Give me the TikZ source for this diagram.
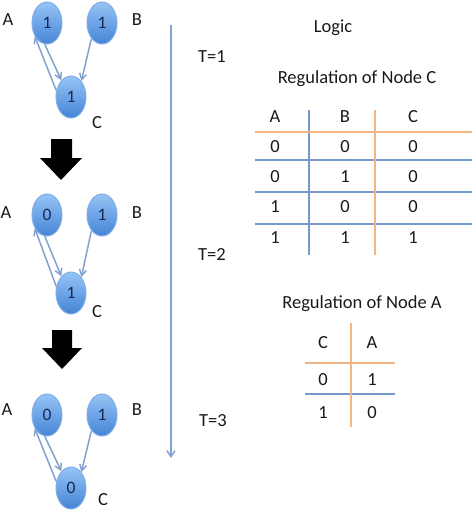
\documentclass[tikz,border=0pt]{standalone}
\usepackage{fontspec}
\setmainfont{Carlito}
\usetikzlibrary{arrows.meta,shapes.geometric}

\definecolor{nodetop}{RGB}{150,196,246}
\definecolor{nodebot}{RGB}{68,132,214}
\definecolor{nodeline}{RGB}{130,175,230}
\definecolor{linkblue}{RGB}{130,162,208}
\definecolor{gridblue}{RGB}{118,152,200}
\definecolor{gridorange}{RGB}{242,182,132}
\definecolor{digit}{RGB}{22,40,80}
\definecolor{ink}{RGB}{25,25,25}

\begin{document}
\begin{tikzpicture}[x=1pt,y=-1pt,
  state/.style={ellipse,draw=nodeline,line width=1pt,top color=nodetop,bottom color=nodebot,
    minimum width=30pt,minimum height=42pt,inner sep=0pt,text=digit,font=\fontsize{17.5}{17.5}\selectfont},
  lbl/.style={inner sep=0pt,text=ink,font=\fontsize{18.5}{20}\selectfont},
  link/.style={draw=linkblue,line width=1.5pt,-{Straight Barb[length=6pt,width=7pt]}},
  timeline/.style={draw=linkblue,line width=1.5pt,-{Straight Barb[length=6pt,width=8pt]}},
  bluerule/.style={draw=gridblue,line width=1.8pt},
  orangerule/.style={draw=gridorange,line width=1.8pt}]
  \useasboundingbox (0,0) rectangle (474,511);

  % T=1
  \node[state] (A1) at (47,23) {1};
  \node[state] (B1) at (102,23) {1};
  \node[state] (C1) at (71,97) {1};
  \node[lbl] (la1) at (8,20) {A};
  \node[lbl] (lb1) at (137,20) {B};
  \node[lbl] (lc1) at (97,123) {C};
  \draw[link] (C1.156) -- (A1.227);
  \draw[link] (A1.264) -- (C1.120);
  \draw[link] (B1.236) -- (C1.57);

  \fill (51,139) -- (72,139) -- (72,158) -- (82,158) -- (61,180) -- (40,158) -- (51,158) -- cycle;

  % T=2
  \node[state] (A2) at (47,215) {0};
  \node[state] (B2) at (102,215) {1};
  \node[state] (C2) at (71,293) {1};
  \node[lbl] (la2) at (6,213) {A};
  \node[lbl] (lb2) at (137,213) {B};
  \node[lbl] (lc2) at (97,312) {C};
  \draw[link] (C2.156) -- (A2.227);
  \draw[link] (A2.264) -- (C2.120);
  \draw[link] (B2.236) -- (C2.57);

  \fill (52,330) -- (72,330) -- (72,348) -- (82,348) -- (62,369) -- (42,348) -- (52,348) -- cycle;

  % T=3
  \node[state] (A3) at (47,415) {0};
  \node[state] (B3) at (102,415) {1};
  \node[state] (C3) at (71,488) {0};
  \node[lbl] (la3) at (7,410) {A};
  \node[lbl] (lb3) at (137,410) {B};
  \node[lbl] (lc3) at (103,500) {C};
  \draw[link] (C3.156) -- (A3.227);
  \draw[link] (A3.264) -- (C3.120);
  \draw[link] (B3.236) -- (C3.57);

  % time axis
  \coordinate (tTop) at (171,25);
  \coordinate (tEnd) at (171,458);
  \draw[timeline] (tTop) -- (tEnd);
  \node[lbl] (t1) at (212,57) {T=1};
  \node[lbl] (t2) at (212,254) {T=2};
  \node[lbl] (t3) at (213,421) {T=3};

  % regulation of C
  \node[lbl] (logic) at (333,28) {Logic};
  \node[lbl] (regC) at (357,79) {Regulation of Node C};
  \draw[bluerule] (255,160) -- (472,160);
  \draw[bluerule] (255,192) -- (472,192);
  \draw[bluerule] (255,224) -- (472,224);
  \draw[bluerule] (309,110) -- (309,255);
  \draw[orangerule] (375,110) -- (375,255);
  \draw[orangerule] (255,132) -- (472,132);
  \node[lbl] (hA) at (275,117) {A};
  \node[lbl] (hB) at (345,117) {B};
  \node[lbl] (hC) at (413,117) {C};
  \node[lbl] (a1) at (275,147) {0};
  \node[lbl] (b1) at (345,147) {0};
  \node[lbl] (c1) at (413,147) {0};
  \node[lbl] (a2) at (275,177) {0};
  \node[lbl] (b2) at (345,177) {1};
  \node[lbl] (c2) at (413,177) {0};
  \node[lbl] (a3) at (275,207) {1};
  \node[lbl] (b3) at (345,207) {0};
  \node[lbl] (c3) at (413,207) {0};
  \node[lbl] (a4) at (275,238) {1};
  \node[lbl] (b4) at (345,238) {1};
  \node[lbl] (c4) at (413,238) {1};

  % regulation of A
  \node[lbl] (regA) at (362,304) {Regulation of Node A};
  \draw[bluerule] (305,394) -- (395,394);
  \draw[orangerule] (305,363) -- (395,363);
  \draw[orangerule] (351,323) -- (351,427);
  \node[lbl] (hC2) at (323,343) {C};
  \node[lbl] (hA2) at (372,343) {A};
  \node[lbl] (cc1) at (323,380) {0};
  \node[lbl] (aa1) at (372,380) {1};
  \node[lbl] (cc2) at (323,413) {1};
  \node[lbl] (aa2) at (372,413) {0};
\end{tikzpicture}
\end{document}
